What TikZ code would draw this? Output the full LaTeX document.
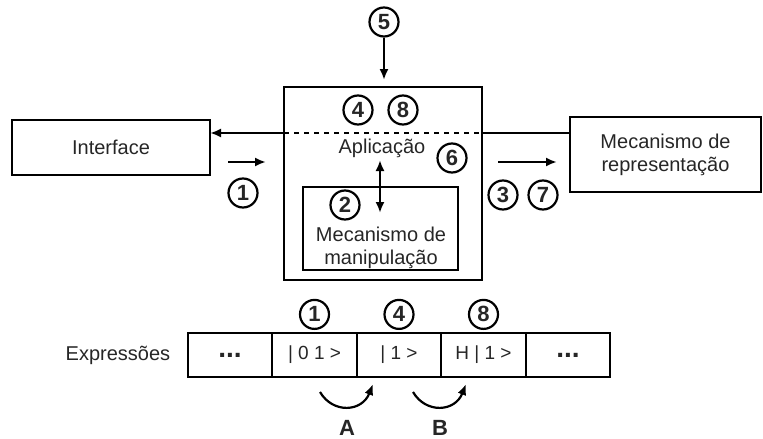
\documentclass[tikz,border=0pt]{standalone}
\usepackage{fontspec}
\setmainfont{Liberation Sans}
\usepackage{tikz}
\usetikzlibrary{positioning,arrows.meta}

\tikzset{
	Box/.style	= {draw, line width=2.4pt, inner sep=0pt, outer sep=0pt, align=center,
				font=\fontsize{20}{23}\selectfont},
	Num/.style	= {circle, draw, line width=2.2pt, minimum size=29pt, inner sep=0pt,
				font=\bfseries\fontsize{22}{22}\selectfont},
	Cell/.style	= {draw, line width=2.4pt, minimum width=84.5pt, minimum height=44pt,
				inner sep=0pt, outer sep=0pt, font=\fontsize{19}{20}\selectfont},
	Dots/.style	= {Cell, font=\bfseries\fontsize{28}{20}\selectfont},
	Txt/.style	= {align=center, font=\fontsize{20}{23}\selectfont},
	Arr/.style	= {-{Latex[length=11pt,width=9pt]}, line width=2.2pt},
}

\begin{document}
\begin{tikzpicture}[x=1pt, y=-1pt, text=black!85]
				%\draw[help lines] (0,0) grid (763,439);
				\useasboundingbox (0,0) rectangle (763,439);
				
				% blocos
				\node[Box, minimum width=198pt, minimum height=55pt] (iface) at (111,147.5) {Interface};
				\node[Box, minimum width=191pt, minimum height=75pt] (rep) at (665.5,154.5) {Mecanismo de\\representação};
				\node[Box, minimum width=198pt, minimum height=193pt] (app) at (383,183.5) {};
				\node[Box, minimum width=155pt, minimum height=83pt] (manip) at (380.5,228.5) {};
				\node[Txt] (aplic) at (382,148) {Aplicação};
				\node[Txt] (mtxt) at (381,248) {Mecanismo de\\manipulação};
				
				% numeros
				\node[Num] (n5) at (384,22) {5};
				\node[Num] (n4) at (358,110) {4};
				\node[Num] (n8) at (403,110) {8};
				\node[Num] (n6) at (452,158) {6};
				\node[Num] (n2) at (345,205) {2};
				\node[Num] (n1) at (243,193) {1};
				\node[Num] (n3) at (503,195) {3};
				\node[Num] (n7) at (543,195) {7};
				
				% linha de ligacao
				\coordinate (dl) at (app.west |- 0,133);
				\coordinate (dr) at (app.east |- 0,133);
				\draw[Arr] (dl) -- (dl -| iface.east);
				\draw[line width=2.2pt, dash pattern=on 5pt off 5pt] (dl) -- (dr);
				\draw[line width=2.2pt] (dr) -- (dr -| rep.west);
				
				\draw[Arr] (n5.south) -- ([yshift=7pt]n5 |- app.north);
				\coordinate (v1) at (380,160);
				\coordinate (v2) at (380,213);
				\draw[{Latex[length=11pt,width=9pt]}-{Latex[length=11pt,width=9pt]}, line width=2.2pt] (v1) -- (v2);
				\coordinate (h1) at (228,162);
				\coordinate (h2) at (266,162);
				\draw[Arr] (h1) -- (h2);
				\coordinate (h3) at (498,162);
				\coordinate (h4) at (557,162);
				\draw[Arr] (h3) -- (h4);
				
				% expressoes
				\node[Dots] (c1) at (230,355) {...};
				\node[Cell, right=0pt of c1] (c2) {| 0 1 >};
				\node[Cell, right=0pt of c2] (c3) {| 1 >};
				\node[Cell, right=0pt of c3] (c4) {H | 1 >};
				\node[Dots, right=0pt of c4] (c5) {...};
				\node[Txt, left=14pt of c1] (expr) {Expressões};
				
				\node[Num, above=3pt of c2] (e1) {1};
				\node[Num, above=3pt of c3] (e4) {4};
				\node[Num, above=3pt of c4] (e8) {8};
				
				\coordinate (a1) at (320,392);
				\coordinate (a2) at (373,384);
				\draw[Arr] (a1) .. controls (333,414) and (362,412) .. (a2);
				\coordinate (b1) at (413,392);
				\coordinate (b2) at (466,384);
				\draw[Arr] (b1) .. controls (426,414) and (455,412) .. (b2);
				\node[Txt, font=\bfseries\fontsize{22}{22}\selectfont] (lA) at (347,428) {A};
				\node[Txt, font=\bfseries\fontsize{22}{22}\selectfont] (lB) at (440,428) {B};
\end{tikzpicture}
\end{document}
